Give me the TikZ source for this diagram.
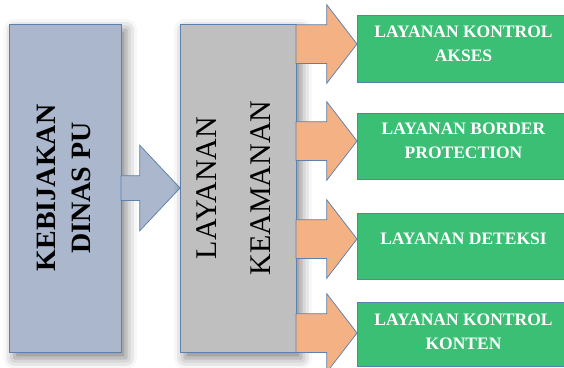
\documentclass[tikz,border=0pt]{standalone}
\usepackage{fontspec}
\setmainfont{Liberation Serif}
\usetikzlibrary{shapes.arrows,shadows.blur}
\definecolor{birukelabu}{HTML}{AAB7CC}
\definecolor{abuabu}{HTML}{BFBFBF}
\definecolor{oranye}{HTML}{F4B183}
\definecolor{hijau}{HTML}{3ABF75}
\definecolor{garisbiru}{HTML}{5B82AF}
\begin{document}
\begin{tikzpicture}[x=1pt,y=-1pt,
  kotak/.style={draw=garisbiru, line width=0.75pt, inner sep=0pt, outer sep=0pt},
  bayang/.style={blur shadow={shadow xshift=5pt, shadow yshift=-6pt, shadow blur radius=11pt, shadow opacity=50}},
  panah/.style={single arrow, draw=garisbiru, line width=0.75pt, fill=oranye, anchor=tail,
    inner xsep=0pt, outer sep=0pt, inner ysep=19pt, minimum height=61pt,
    single arrow head extend=20pt, single arrow tip angle=104.8},
  judul/.style={rotate=90, align=center},
  hijaubox/.style={kotak, fill=hijau, minimum width=213pt},
  layanan/.style={text=white, align=center, font=\bfseries\fontsize{17.5}{24}\selectfont}]
\useasboundingbox (0,0) rectangle (564,367);
\node[kotak, bayang, fill=birukelabu, minimum width=111.5pt, minimum height=328pt] (kebijakan) at (65.25,188) {};
\node[judul, font=\bfseries\fontsize{28}{35}\selectfont] (kebijakan-teks) at ([xshift=-1.5pt]kebijakan.center) {KEBIJAKAN\\DINAS PU};
\node[panah, fill=birukelabu, minimum height=59pt, inner ysep=12pt, single arrow head extend=30.5pt, single arrow tip angle=93.5] (panah-kebijakan) at (kebijakan.east |- 0,188) {};
\node[kotak, bayang, fill=abuabu, minimum width=116pt, minimum height=328pt] (keamanan) at (238,188) {};
\node[judul, font=\fontsize{30}{54}\selectfont] (keamanan-teks) at ([xshift=-4pt]keamanan.center) {LAYANAN\\KEAMANAN};
\node[hijaubox, minimum height=67pt] (akses) at (463.5,48.5) {};
\node[layanan] (akses-teks) at (463.5,44) {LAYANAN KONTROL\\AKSES};
\node[hijaubox, minimum height=66pt] (border) at (463.5,146) {};
\node[layanan] (border-teks) at (463.5,141) {LAYANAN BORDER\\PROTECTION};
\node[hijaubox, minimum height=66pt] (deteksi) at (463.5,246) {};
\node[layanan] (deteksi-teks) at (463.5,239) {LAYANAN DETEKSI};
\node[hijaubox, minimum height=64pt] (konten) at (463.5,334) {};
\node[layanan] (konten-teks) at (463.5,332) {LAYANAN KONTROL\\KONTEN};
\node[panah] (panah-akses) at (keamanan.east |- 0,44) {};
\node[panah] (panah-border) at (keamanan.east |- 0,141) {};
\node[panah] (panah-deteksi) at (keamanan.east |- 0,239) {};
\node[panah] (panah-konten) at (keamanan.east |- 0,333) {};
\end{tikzpicture}
\end{document}
